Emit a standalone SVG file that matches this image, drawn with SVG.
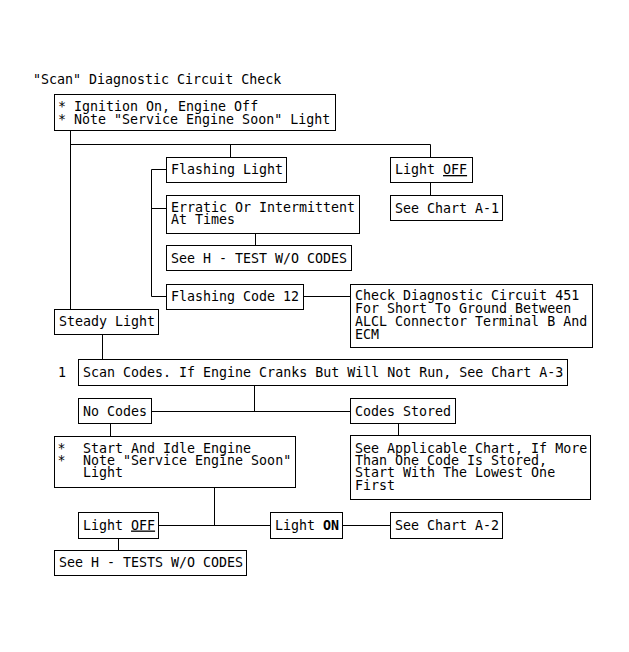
<svg xmlns="http://www.w3.org/2000/svg" width="629" height="652" viewBox="0 0 629 652">
<style>
rect.b{fill:#fff;stroke:#000;stroke-width:1}
.c path{fill:none;stroke:#000;stroke-width:1}
text{font-family:"DejaVu Sans Mono","Liberation Mono",monospace;font-size:13.3px;fill:#000}
.u{text-decoration:underline}
.bd{font-weight:bold}
</style>
<rect width="629" height="652" fill="#fff"/>
<text x="33" y="84">"Scan" Diagnostic Circuit Check</text>
<g class="c" id="connectors">
<path d="M70.5 130.5V309.5"/>
<path d="M70.5 144.5H430.5V157.5"/>
<path d="M230.5 144.5V157.5"/>
<path d="M166.5 169.5H151.5V296.5H166.5"/>
<path d="M151.5 208.5H166.5"/>
<path d="M255.5 233.5V245.5"/>
<path d="M430.5 182.5V195.5"/>
<path d="M303.5 296.5H350.5"/>
<path d="M102.5 334.5V359.5"/>
<path d="M254.5 385.5V411.5"/>
<path d="M151.5 411.5H350.5"/>
<path d="M110.5 423.5V436.5"/>
<path d="M398.5 423.5V435.5"/>
<path d="M214.5 487.5V525.5"/>
<path d="M158.5 525.5H270.5"/>
<path d="M342.5 525.5H390.5"/>
<path d="M118.5 538.5V550.5"/>
</g>
<g id="start">
<rect class="b" x="54.5" y="94.5" width="281" height="36"/>
<text x="58" y="110.5">* Ignition On, Engine Off</text>
<text x="58" y="124">* Note "Service Engine Soon" Light</text>
</g>
<g id="flashing-light">
<rect class="b" x="166.5" y="157.5" width="120" height="25"/>
<text x="171" y="174">Flashing Light</text>
</g>
<g id="light-off-top">
<rect class="b" x="390.5" y="157.5" width="82" height="25"/>
<text x="395" y="174">Light <tspan class="u">OFF</tspan></text>
</g>
<g id="chart-a1">
<rect class="b" x="390.5" y="195.5" width="112" height="25"/>
<text x="395" y="212.5">See Chart A-1</text>
</g>
<g id="erratic">
<rect class="b" x="166.5" y="195.5" width="193" height="38"/>
<text x="171" y="211.5">Erratic Or Intermittent</text>
<text x="171" y="223.5">At Times</text>
</g>
<g id="see-h-test">
<rect class="b" x="166.5" y="245.5" width="185" height="25"/>
<text x="171" y="262.5">See H - TEST W/O CODES</text>
</g>
<g id="flashing-code">
<rect class="b" x="166.5" y="284.5" width="137" height="25"/>
<text x="171" y="300.5">Flashing Code 12</text>
</g>
<g id="check-circuit">
<rect class="b" x="350.5" y="284.5" width="242" height="63"/>
<text x="355" y="299.5">Check Diagnostic Circuit 451</text>
<text x="355" y="312.5">For Short To Ground Between</text>
<text x="355" y="325.5">ALCL Connector Terminal B And</text>
<text x="355" y="338.5">ECM</text>
</g>
<g id="steady-light">
<rect class="b" x="54.5" y="309.5" width="104" height="25"/>
<text x="59" y="326">Steady Light</text>
</g>
<g id="scan-codes">
<text x="58" y="377">1</text>
<rect class="b" x="78.5" y="359.5" width="489" height="26"/>
<text x="83" y="377">Scan Codes. If Engine Cranks But Will Not Run, See Chart A-3</text>
</g>
<g id="no-codes">
<rect class="b" x="78.5" y="398.5" width="73" height="25"/>
<text x="83" y="415.5">No Codes</text>
</g>
<g id="codes-stored">
<rect class="b" x="350.5" y="398.5" width="105" height="25"/>
<text x="355" y="415.5">Codes Stored</text>
</g>
<g id="start-idle">
<rect class="b" x="54.5" y="436.5" width="241" height="51"/>
<text x="57.5" y="452.5">*</text>
<text x="83" y="452.5">Start And Idle Engine</text>
<text x="57.5" y="465">*</text>
<text x="83" y="465">Note "Service Engine Soon"</text>
<text x="83" y="477">Light</text>
</g>
<g id="see-applicable">
<rect class="b" x="350.5" y="435.5" width="240" height="64"/>
<text x="355" y="452.5">See Applicable Chart, If More</text>
<text x="355" y="465">Than One Code Is Stored,</text>
<text x="355" y="477">Start With The Lowest One</text>
<text x="355" y="490">First</text>
</g>
<g id="light-off-bottom">
<rect class="b" x="78.5" y="512.5" width="80" height="26"/>
<text x="83" y="529.5">Light <tspan class="u">OFF</tspan></text>
</g>
<g id="light-on">
<rect class="b" x="270.5" y="512.5" width="72" height="26"/>
<text x="275" y="529.5">Light <tspan class="bd">ON</tspan></text>
</g>
<g id="chart-a2">
<rect class="b" x="390.5" y="512.5" width="112" height="26"/>
<text x="395" y="529.5">See Chart A-2</text>
</g>
<g id="see-h-tests">
<rect class="b" x="54.5" y="550.5" width="192" height="25"/>
<text x="59" y="567">See H - TESTS W/O CODES</text>
</g>
</svg>
